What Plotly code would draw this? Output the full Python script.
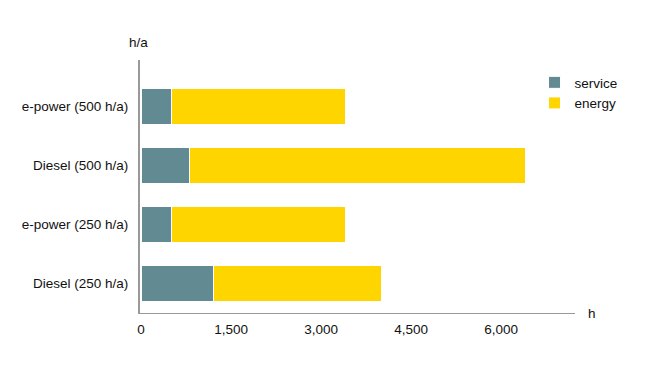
import plotly.graph_objects as go

categories = ["Diesel (250 h/a)", "e-power (250 h/a)", "Diesel (500 h/a)", "e-power (500 h/a)"]
service = [1200, 500, 800, 500]
energy = [2800, 2900, 5600, 2900]
x_ticks = [0, 1500, 3000, 4500, 6000]
x_tick_labels = ["0", "1,500", "3,000", "4,500", "6,000"]

FONT = "Liberation Sans, Arial, sans-serif"
FS = 13.5
SERVICE_COLOR = "#628A92"
ENERGY_COLOR = "#FFD500"

fig = go.Figure()
fig.add_trace(go.Bar(y=categories, x=service, name="service", orientation="h",
                     marker=dict(color=SERVICE_COLOR, line=dict(color="white", width=1))))
fig.add_trace(go.Bar(y=categories, x=energy, name="energy", orientation="h",
                     marker=dict(color=ENERGY_COLOR, line=dict(color="white", width=1))))

fig.update_layout(
    barmode="stack",
    bargap=0.39,
    width=660, height=371,
    margin=dict(l=132, r=93, t=52, b=66, autoexpand=False),
    paper_bgcolor="white", plot_bgcolor="white",
    font=dict(family=FONT, size=FS, color="#111111"),
    showlegend=True,
    legend=dict(x=0.907, xanchor="left", y=0.972, yanchor="top", traceorder="normal",
                font=dict(size=FS), itemwidth=30, bgcolor="rgba(0,0,0,0)",
                tracegroupgap=0),
    xaxis=dict(range=[-17, 7233], showgrid=False, zeroline=False, showline=True,
               linecolor="#999999", linewidth=1, tickmode="array", tickvals=x_ticks,
               ticktext=x_tick_labels, ticks="", ticklabelstandoff=4, automargin=False),
    yaxis=dict(categoryorder="array", categoryarray=categories, range=[-0.5, 3.78],
               showgrid=False, zeroline=False, showline=True, linecolor="#999999",
               linewidth=2, ticks="", ticklabelstandoff=7, automargin=False),
    annotations=[
        dict(text="h/a", xref="paper", yref="paper", x=0, y=1, xanchor="center",
             yanchor="middle", xshift=-2, yshift=18, showarrow=False, font=dict(size=FS)),
        dict(text="h", xref="paper", yref="paper", x=1, y=0, xanchor="center",
             yanchor="middle", xshift=17, yshift=0, showarrow=False, font=dict(size=FS)),
    ],
)
fig.write_html("out.html")
